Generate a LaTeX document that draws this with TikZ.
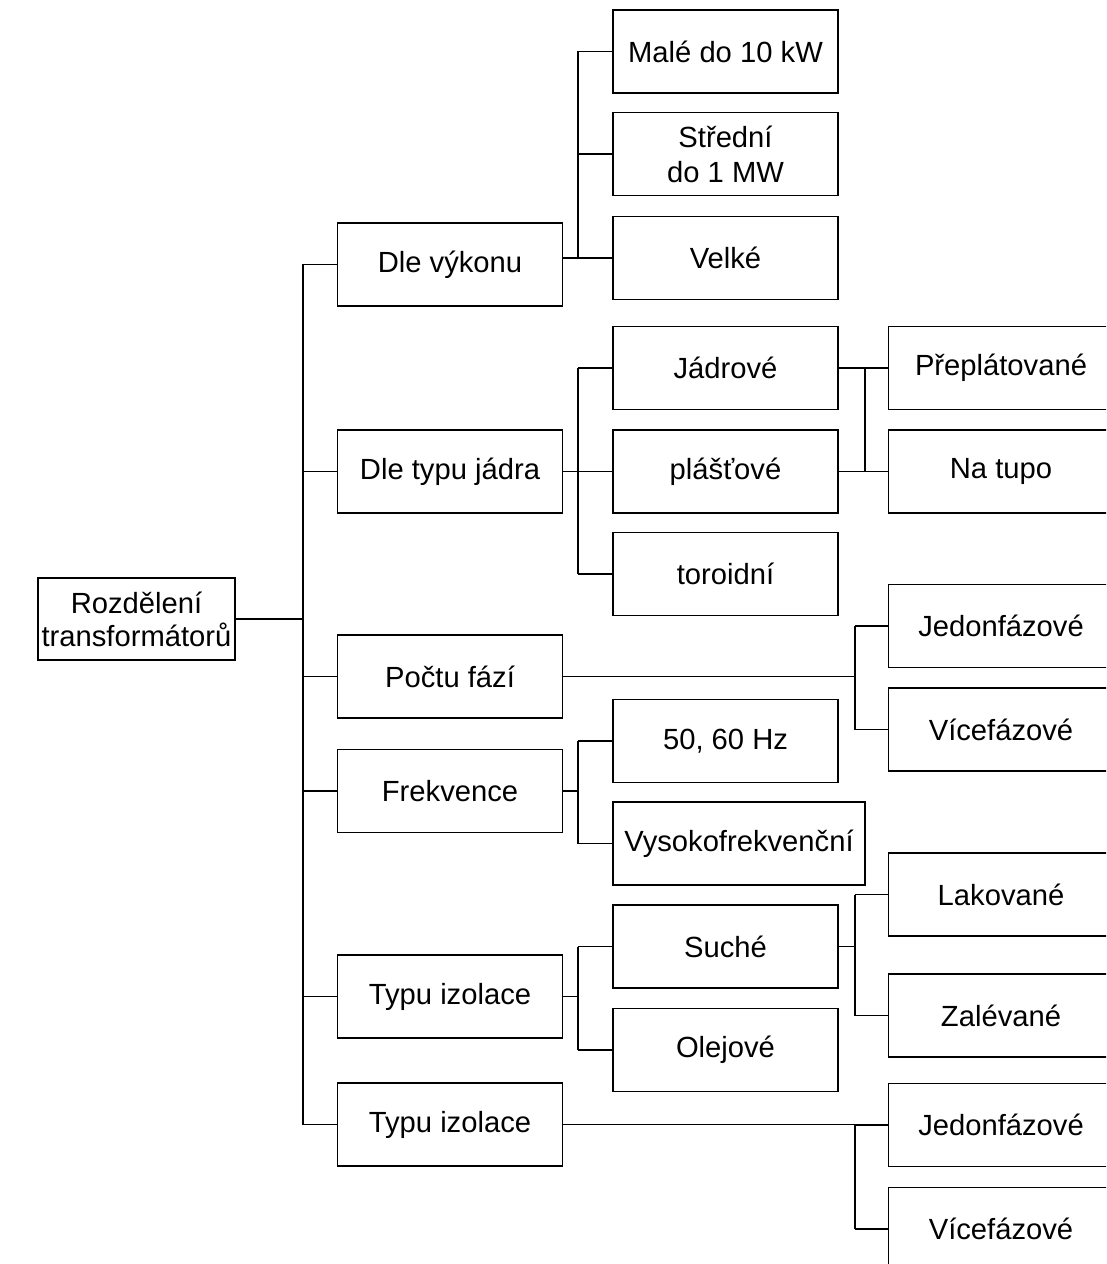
\documentclass[tikz,border=0pt]{standalone}
\usepackage{fontspec}
\setmainfont{Liberation Sans}
\usetikzlibrary{calc, positioning}

\begin{document}
\begin{tikzpicture}[x=0.01cm, y=-0.01cm, line width=0.5pt,
  box/.style = {draw, align=center, minimum width=2.25cm, minimum height=0.83cm,
                inner sep=1pt, font=\fontsize{8.3}{10}\selectfont}]
\useasboundingbox (0,0) rectangle (1106,1264);
\clip (0,0) rectangle (1106,1264);
\node[box, minimum width=1.97cm, minimum height=0.82cm, font=\fontsize{8.3}{9.4}\selectfont] (root) at (136.5,619) {Rozdělení\\transformátorů};
% first level
\node[box] (dv) at (450,264.5) {Dle výkonu};
\node[box] (dtj) at (450,471.5) {Dle typu jádra};
\node[box] (pf) at (450,676.5) {Počtu fází};
\node[box] (fr) at (450,791) {Frekvence};
\node[box] (ti) at (450,996.5) {Typu izolace};
\node[box] (ti2) at (450,1124.5) {Typu izolace};
% second level
\node[box] (male) at (725.5,51.5) {Malé do 10 kW};
\node[box] (stred) at (725.5,154) {Střední\\do 1 MW};
\node[box] (velke) at (725.5,258) {Velké};
\node[box] (jadr) at (725.5,368) {Jádrové};
\node[box] (plast) at (725.5,471.5) {plášťové};
\node[box] (toro) at (725.5,574) {toroidní};
\node[box] (hz) at (725.5,741) {50, 60 Hz};
\node[box, minimum width=2.52cm] (vf) at (739,843.5) {Vysokofrekvenční};
\node[box] (suche) at (725.5,946.5) {Suché};
\node[box] (olej) at (725.5,1050) {Olejové};
% third level
\node[box] (prepl) at (1001,368) {Přeplátované};
\node[box] (tupo) at (1001,471.5) {Na tupo};
\node[box] (jed1) at (1001,626) {Jedonfázové};
\node[box] (vic1) at (1001,729.5) {Vícefázové};
\node[box] (lak) at (1001,894.5) {Lakované};
\node[box] (zal) at (1001,1015.5) {Zalévané};
\node[box] (jed2) at (1001,1125) {Jedonfázové};
\node[box] (vic2) at (1001,1229) {Vícefázové};
% buses
\coordinate (b0) at (303,619);
\coordinate (b1) at (578,0);
\coordinate (b2) at (865,0);
\coordinate (b3) at (855,0);
\draw (root) -- (b0);
\draw (b0 |- dv) -- (b0 |- ti2);
\foreach \n in {dv,dtj,pf,fr,ti,ti2} \draw (b0 |- \n) -- (\n.west);
\draw (dv.east |- velke) -- (b1 |- velke);
\draw (b1 |- male) -- (b1 |- velke);
\draw (dtj) -- (b1 |- dtj);
\draw (b1 |- jadr) -- (b1 |- toro);
\draw (fr) -- (b1 |- fr);
\draw (b1 |- hz) -- (b1 |- vf);
\draw (ti) -- (b1 |- ti);
\draw (b1 |- suche) -- (b1 |- olej);
\foreach \n in {male,stred,velke,jadr,plast,toro,hz,vf,suche,olej} \draw (b1 |- \n) -- (\n.west);
\draw (jadr) -- (b2 |- jadr);
\draw (plast) -- (b2 |- plast);
\draw (b2 |- prepl) -- (b2 |- tupo);
\foreach \n in {prepl,tupo} \draw (b2 |- \n) -- (\n.west);
\draw (pf) -- (b3 |- pf);
\draw (b3 |- jed1) -- (b3 |- vic1);
\draw (suche) -- (b3 |- suche);
\draw (b3 |- lak) -- (b3 |- zal);
\draw (ti2) -- (b3 |- ti2);
\draw (b3 |- jed2) -- (b3 |- vic2);
\foreach \n in {jed1,vic1,lak,zal,jed2,vic2} \draw (b3 |- \n) -- (\n.west);
\end{tikzpicture}
\end{document}
